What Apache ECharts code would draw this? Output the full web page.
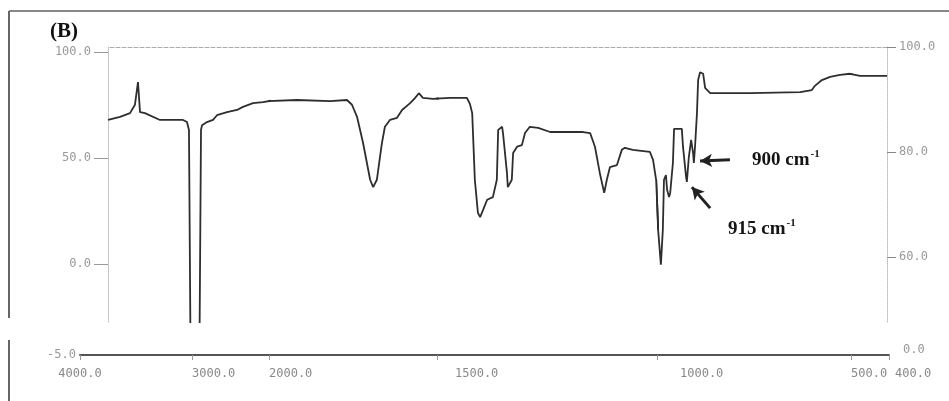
<!DOCTYPE html>
<html>
<head>
<meta charset="utf-8">
<script src="https://cdn.jsdelivr.net/npm/echarts@6/dist/echarts.min.js"></script>
<style>
  html, body { margin: 0; background: #fff; }
  #chart { width: 949px; height: 401px; }
</style>
</head>
<body>
<div id="chart"></div>
<script>
// spectrum: wavenumber (cm-1) and transmittance (%)
const waveNumbers = [4000, 3857, 3738, 3679, 3643, 3619, 3560, 3381, 3107, 3060, 3036, 3012, 2909, 2883, 2870, 2805, 2727, 2675, 2545, 2416, 2338, 2208, 2078, 1917, 1818, 1768, 1753, 1738, 1720, 1699, 1690, 1679, 1664, 1655, 1640, 1619, 1604, 1580, 1565, 1554, 1542, 1512, 1470, 1432, 1425, 1420, 1414, 1407, 1402, 1395, 1386, 1373, 1364, 1361, 1352, 1350, 1341, 1339, 1330, 1327, 1318, 1307, 1300, 1289, 1270, 1243, 1168, 1152, 1141, 1130, 1120, 1114, 1107, 1091, 1080, 1073, 1055, 1016, 1009, 1002, 997, 990, 985, 982, 977, 974, 969, 966, 959, 956, 936, 933, 925, 923, 918, 912, 907, 905, 902, 897, 894, 889, 881, 876, 863, 760, 631, 601, 593, 575, 554, 528, 503, 475, 406, 400]
const transmittance = [86.1, 86.7, 87.4, 89.0, 93.3, 87.6, 87.4, 86.1, 86.1, 85.7, 84.2, 30, 30, 84.2, 85.1, 85.7, 86.1, 87.0, 87.6, 88.0, 88.6, 89.3, 89.5, 89.9, 89.7, 89.9, 89.0, 86.7, 81.7, 74.7, 73.3, 74.7, 81.7, 84.8, 86.1, 86.5, 88.0, 89.3, 90.3, 91.2, 90.3, 90.1, 90.3, 90.3, 89.1, 87.4, 74.7, 68.4, 67.6, 69.0, 70.9, 71.4, 74.7, 84.2, 84.8, 83.6, 76.0, 73.3, 74.7, 79.8, 81.0, 81.3, 83.6, 84.8, 84.6, 83.8, 83.8, 83.6, 81.0, 76.0, 72.2, 74.7, 77.1, 77.5, 80.4, 80.8, 80.4, 80.0, 78.5, 74.7, 65.1, 58.5, 65.1, 74.7, 75.6, 72.8, 71.4, 72.2, 77.9, 84.4, 84.4, 81.0, 75.2, 74.3, 79.0, 82.3, 79.8, 77.9, 81.0, 87.4, 93.7, 95.2, 94.9, 92.2, 91.2, 91.2, 91.4, 91.8, 92.6, 93.7, 94.3, 94.7, 94.9, 94.5, 94.5, 94.5]

// axis breaks of the instrument's wavenumber scale and the tick labels
const tickWaves = [4000, 3000, 2000, 1500, 1000, 500, 400]
const leftTicks = [0, 50, 100]
const rightTicks = [60, 80, 100]
const bottomLeftTick = [-5]
const bottomRightTick = [0]

// layout (pixels)
const segX = [108, 192, 269, 437, 657, 851, 887]
const bandX = [80, 192, 269, 437, 657, 851, 889]
const labelShift = [0, 0, 0, 18, 23, 0, 0]
const plotTop = 47, plotH = 275
const tMin = 47.6, tMax = 100
const lMin = -27.4, lMax = 102.4

const monoFont = { fontFamily: 'DejaVu Sans Mono', fontSize: 12, color: '#999' }
const fmt = v => v.toFixed(1)

function segmentData (i) {
  const hi = tickWaves[i], lo = tickWaves[i + 1]
  let first = -1, last = -1
  waveNumbers.forEach((w, k) => {
    if (w <= hi && w >= lo) {
      if (first < 0) first = k
      last = k
    }
  })
  const from = Math.max(0, first - 1), to = Math.min(waveNumbers.length - 1, last + 1)
  const out = []
  for (let k = from; k <= to; k++) out.push([waveNumbers[k], transmittance[k]])
  return out
}

const grid = [], xAxis = [], yAxis = [], series = []
const nSeg = tickWaves.length - 1

for (let i = 0; i < nSeg; i++) {
  // spectrum part
  grid.push({ left: segX[i], width: segX[i + 1] - segX[i], top: plotTop, height: plotH })
  const g = grid.length - 1
  xAxis.push({
    gridIndex: g, type: 'value', min: tickWaves[i + 1], max: tickWaves[i], inverse: true, position: 'top',
    axisLine: { show: true, onZero: false, lineStyle: { color: '#aaa', type: 'dashed', width: 1 } },
    axisTick: { show: false }, axisLabel: { show: false }, splitLine: { show: false }
  })
  yAxis.push({ gridIndex: g, type: 'value', min: tMin, max: tMax, show: false })
  const yi = yAxis.length - 1
  const s = {
    type: 'line', xAxisIndex: xAxis.length - 1, yAxisIndex: yi, data: segmentData(i),
    showSymbol: false, clip: true, animation: false,
    lineStyle: { color: '#2e2e2e', width: 1.8 }
  }
  if (i === 4) {
    s.markLine = {
      silent: true, animation: false, symbol: ['none', 'arrow'], symbolSize: [10, 12],
      label: { show: false },
      lineStyle: { color: '#222', width: 3, type: 'solid' },
      data: [
        [{ coord: [812, 78.5] }, { coord: [889, 78.3] }],
        [{ coord: [863, 69.3] }, { coord: [910, 73.3] }]
      ]
    }
  }
  series.push(s)

  // bottom scale part
  grid.push({ left: bandX[i], width: bandX[i + 1] - bandX[i], top: 345, height: 10 })
  const b = grid.length - 1
  const lastSeg = i === nSeg - 1
  const vals = lastSeg ? [tickWaves[i], tickWaves[i + 1]] : [tickWaves[i]]
  xAxis.push({
    gridIndex: b, type: 'value', min: tickWaves[i + 1], max: tickWaves[i], inverse: true, position: 'bottom',
    axisLine: { show: true, onZero: false, lineStyle: { color: '#555', width: 2 } },
    axisTick: { show: true, customValues: vals, length: 5, lineStyle: { color: '#999' } },
    axisLabel: {
      customValues: vals,
      formatter: v => (lastSeg && v === tickWaves[i + 1]) ? '{end|' + fmt(v) + '}' : fmt(v),
      rich: { end: { padding: [0, 0, 0, 6], fontFamily: 'DejaVu Sans Mono', fontSize: 12, color: '#888' } },
      margin: 13, align: i === 0 ? 'center' : 'left',
      padding: [0, 0, 0, labelShift[i]], ...monoFont, color: '#888', fontSize: 12
    },
    splitLine: { show: false }
  })
  yAxis.push({ gridIndex: b, type: 'value', min: -5, max: 5, show: false })
}

// left transmittance scale on the first spectrum grid
yAxis.push({
  gridIndex: 0, type: 'value', position: 'left', min: lMin, max: lMax,
  axisLine: { show: true, lineStyle: { color: '#bbb', type: 'dotted' } },
  axisTick: { show: true, customValues: leftTicks, length: 14, lineStyle: { color: '#999' } },
  axisLabel: { customValues: leftTicks, formatter: fmt, margin: 17, ...monoFont },
  splitLine: { show: false }
})
// right scale on the last spectrum grid
yAxis.push({
  gridIndex: (nSeg - 1) * 2, type: 'value', position: 'right', min: tMin, max: tMax,
  axisLine: { show: true, lineStyle: { color: '#bbb', type: 'dotted' } },
  axisTick: { show: true, customValues: rightTicks, length: 9, lineStyle: { color: '#888' } },
  axisLabel: { customValues: rightTicks, formatter: fmt, margin: 12, ...monoFont },
  splitLine: { show: false }
})
// end labels of the bottom scale
yAxis.push({
  gridIndex: 1, type: 'value', position: 'left', min: -5, max: 5,
  axisLine: { show: false }, axisTick: { show: false },
  axisLabel: { customValues: bottomLeftTick, formatter: fmt, margin: 4, ...monoFont },
  splitLine: { show: false }
})
yAxis.push({
  gridIndex: nSeg * 2 - 1, type: 'value', position: 'right', min: -5, max: 5,
  axisLine: { show: false }, axisTick: { show: false },
  axisLabel: { customValues: bottomRightTick, formatter: fmt, margin: 14, ...monoFont },
  splitLine: { show: false }
})

const serif = 'Liberation Serif'
const bandLabel = (txt, x, y) => ({
  type: 'text', left: x, top: y,
  style: {
    text: '{n|' + txt + ' cm}{s|-1}',
    rich: {
      n: { fontFamily: serif, fontWeight: 'bold', fontSize: 19, fill: '#151515' },
      s: { fontFamily: serif, fontWeight: 'bold', fontSize: 11, fill: '#151515', padding: [0, 0, 12, 1] }
    }
  }
})

const chart = echarts.init(document.getElementById('chart'))
chart.setOption({
  animation: false,
  backgroundColor: '#fff',
  grid, xAxis, yAxis, series,
  graphic: [
    { type: 'line', shape: { x1: 9, y1: 11, x2: 949, y2: 11 }, style: { stroke: '#888', lineWidth: 2 } },
    { type: 'line', shape: { x1: 9, y1: 11, x2: 9, y2: 318 }, style: { stroke: '#666', lineWidth: 2 } },
    { type: 'line', shape: { x1: 9, y1: 340, x2: 9, y2: 401 }, style: { stroke: '#666', lineWidth: 2 } },
    { type: 'text', left: 50, top: 21, style: { text: '(B)', font: 'bold 21px "Liberation Serif"', fill: '#111' } },
    bandLabel('900', 752, 149),
    bandLabel('915', 728, 218)
  ]
})
</script>
</body>
</html>
